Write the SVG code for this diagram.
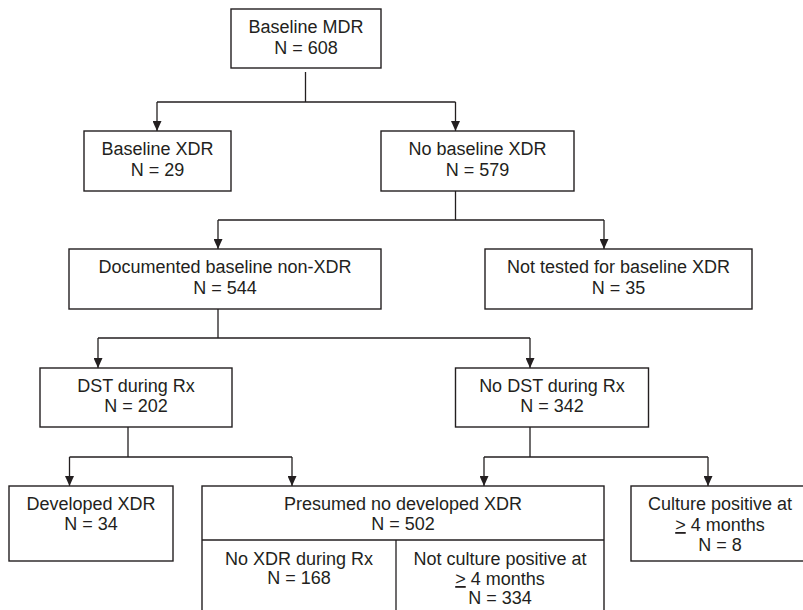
<svg xmlns="http://www.w3.org/2000/svg" width="803" height="610" viewBox="0 0 803 610">
<style>
.box{fill:#fff;stroke:#231f20;stroke-width:1.4}
.ln{fill:none;stroke:#231f20;stroke-width:1.3}
text{font-family:"Liberation Sans",Arial,sans-serif;font-size:18px;fill:#231f20;text-anchor:middle}
</style>
<defs>
<marker id="ah" markerUnits="userSpaceOnUse" markerWidth="10" markerHeight="9" refX="10" refY="4.5" orient="auto" viewBox="0 0 10 9">
<path d="M0,0 L10,4.5 L0,9 Z" fill="#231f20"/>
</marker>
</defs>
<rect width="803" height="610" fill="#fff"/>
<g id="connectors">
<path class="ln" d="M305.5,72 V102 M157,102 H455.5"/>
<path class="ln" d="M157,102 V131" marker-end="url(#ah)"/>
<path class="ln" d="M455.5,102 V131" marker-end="url(#ah)"/>
<path class="ln" d="M455.5,191 V220 M218,220 H604"/>
<path class="ln" d="M218,220 V249" marker-end="url(#ah)"/>
<path class="ln" d="M604,220 V249" marker-end="url(#ah)"/>
<path class="ln" d="M218,309 V338 M98,338 H530"/>
<path class="ln" d="M98,338 V368" marker-end="url(#ah)"/>
<path class="ln" d="M530,338 V368" marker-end="url(#ah)"/>
<path class="ln" d="M128,427 V457 M69.5,457 H292"/>
<path class="ln" d="M69.5,457 V486" marker-end="url(#ah)"/>
<path class="ln" d="M292,457 V486" marker-end="url(#ah)"/>
<path class="ln" d="M530,427 V457 M484,457 H708"/>
<path class="ln" d="M484,457 V486" marker-end="url(#ah)"/>
<path class="ln" d="M708,457 V486" marker-end="url(#ah)"/>
</g>
<g id="baseline-mdr">
<rect class="box" x="231" y="9" width="150" height="59"/>
<text x="306" y="33">Baseline MDR</text>
<text x="306" y="54">N = 608</text>
</g>
<g id="baseline-xdr">
<rect class="box" x="84" y="131" width="147" height="60"/>
<text x="157.5" y="155">Baseline XDR</text>
<text x="157.5" y="176">N = 29</text>
</g>
<g id="no-baseline-xdr">
<rect class="box" x="381" y="131" width="193" height="60"/>
<text x="477.5" y="155">No baseline XDR</text>
<text x="477.5" y="176">N = 579</text>
</g>
<g id="documented">
<rect class="box" x="69" y="249" width="312" height="60"/>
<text x="225" y="273">Documented baseline non-XDR</text>
<text x="225" y="294">N = 544</text>
</g>
<g id="not-tested">
<rect class="box" x="485" y="249" width="267" height="60"/>
<text x="618.5" y="273">Not tested for baseline XDR</text>
<text x="618.5" y="294">N = 35</text>
</g>
<g id="dst">
<rect class="box" x="40" y="368" width="192" height="59"/>
<text x="136" y="392">DST during Rx</text>
<text x="136" y="412">N = 202</text>
</g>
<g id="no-dst">
<rect class="box" x="455.5" y="368" width="193" height="59"/>
<text x="552" y="392">No DST during Rx</text>
<text x="552" y="412">N = 342</text>
</g>
<g id="developed-xdr">
<rect class="box" x="9" y="486" width="164" height="75"/>
<text x="91" y="510">Developed XDR</text>
<text x="91" y="530">N = 34</text>
</g>
<g id="presumed">
<rect class="box" x="202" y="486" width="402" height="140"/>
<path class="ln" d="M202,540 H604 M396,540 V626"/>
<text x="403" y="510">Presumed no developed XDR</text>
<text x="403" y="530">N = 502</text>
<text x="299" y="565">No XDR during Rx</text>
<text x="299" y="584">N = 168</text>
<text x="500" y="565">Not culture positive at</text>
<text x="500" y="585"><tspan text-decoration="underline">&gt;</tspan> 4 months</text>
<text x="500" y="604">N = 334</text>
</g>
<g id="culture-positive">
<rect class="box" x="631" y="486" width="180" height="75"/>
<text x="720" y="510">Culture positive at</text>
<text x="720" y="531"><tspan text-decoration="underline">&gt;</tspan> 4 months</text>
<text x="720" y="551">N = 8</text>
</g>
</svg>
